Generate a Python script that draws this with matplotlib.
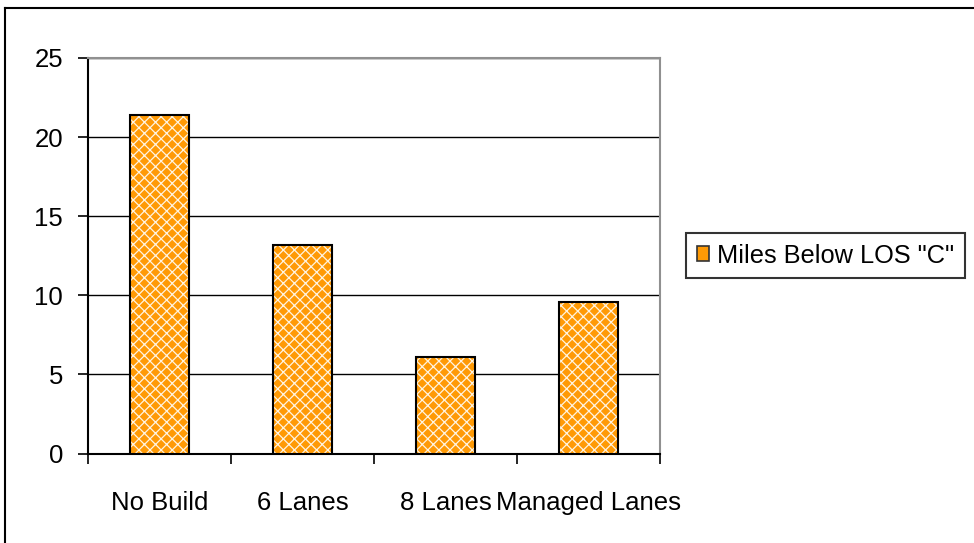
import numpy as np
import matplotlib.pyplot as plt
from matplotlib.lines import Line2D

plt.rcParams['font.family'] = ['Liberation Sans', 'DejaVu Sans']
plt.rcParams['hatch.linewidth'] = 0.9

categories = ["No Build", "6 Lanes", "8 Lanes", "Managed Lanes"]
miles_below_c = [21.4, 13.2, 6.1, 9.6]
series_name = 'Miles Below LOS "C"'

fig = plt.figure(figsize=(9.74, 5.43), dpi=100)
ax = fig.add_axes([0.0903, 0.1648, 0.5873, 0.7284])

x = np.arange(len(categories))
# fill with white lattice first, then a black outline on top
ax.bar(x, miles_below_c, width=0.41, color='#ff9a05', edgecolor='#fff4e0',
       linewidth=0, hatch='xxx', label=series_name, zorder=3)
ax.bar(x, miles_below_c, width=0.41, fill=False, edgecolor='black',
       linewidth=1.5, zorder=4)

ax.set_ylim(0, 25)
ax.set_yticks(np.arange(0, 26, 5))
ax.set_xlim(-0.5, len(categories) - 0.5)

# category boundaries get the tick marks, centres get the labels
ax.set_xticks(np.arange(-0.5, len(categories), 1.0))
ax.set_xticklabels([])
ax.set_xticks(x, minor=True)
ax.set_xticklabels(categories, minor=True)
ax.tick_params(axis='x', which='major', direction='out', length=7, width=1.2)
ax.tick_params(axis='x', which='minor', length=0, pad=27, labelsize=18.5)
ax.tick_params(axis='y', direction='out', length=7, width=1.2, pad=11, labelsize=18.5)

ax.grid(axis='y', color='black', linewidth=1.0, zorder=0)
ax.set_axisbelow(True)

ax.spines['left'].set_color('black')
ax.spines['left'].set_linewidth(1.5)
ax.spines['bottom'].set_color('black')
ax.spines['bottom'].set_linewidth(1.5)
for side in ['top', 'right']:
    ax.spines[side].set_color('#909090')
    ax.spines[side].set_linewidth(1.5)

handles, labels = ax.get_legend_handles_labels()
leg = fig.legend(handles, labels, loc='center left',
                 bbox_to_anchor=(686 / 974, 1 - 255.5 / 543),
                 frameon=True, fancybox=False, shadow=False, fontsize=18.3,
                 handlelength=0.5, handleheight=0.5, handletextpad=0.3,
                 borderpad=0.42, borderaxespad=0)
leg.get_frame().set_edgecolor('black')
leg.get_frame().set_linewidth(1.5)
for p in leg.get_patches():
    p.set_edgecolor('#333333')
    p.set_linewidth(1.2)
    p.set_hatch(None)

# outer chart frame (left and top edges)
fig.add_artist(Line2D([5 / 974, 5 / 974], [0, 1 - 8 / 543], color='black', lw=1.5))
fig.add_artist(Line2D([5 / 974, 1], [1 - 8 / 543, 1 - 8 / 543], color='black', lw=1.5))

fig.savefig('out.png', dpi=100)
